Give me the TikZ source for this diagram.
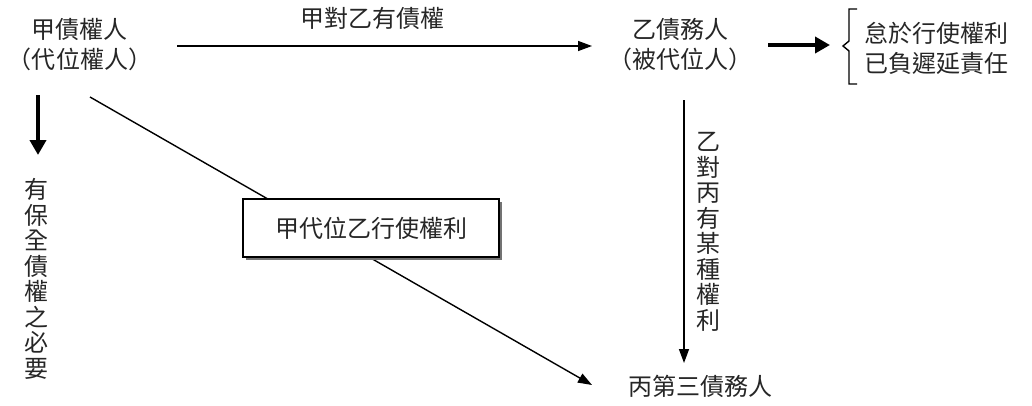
\documentclass[tikz,border=0pt]{standalone}
\usepackage{fontspec}
\newfontfamily\cjk{Noto Sans CJK TC}
\usetikzlibrary{arrows.meta}
\begin{document}
\begin{tikzpicture}[x=1pt,y=-1pt,
  lbl/.style={font=\cjk\fontsize{24}{30}\selectfont, inner sep=0pt, align=center, text=black!85},
  vlbl/.style={font=\cjk\fontsize{24}{25.5}\selectfont, inner sep=0pt, align=center, text=black!85},
  thin arrow/.style={line width=1.4pt, -{Triangle[length=14pt,width=10pt]}},
  thick arrow/.style={line width=4pt, -{Triangle[length=15pt,width=16pt]}},
  shadowbox/.style={draw, line width=1.2pt, fill=white, minimum width=256pt, minimum height=58pt, inner sep=0pt}
]
\useasboundingbox (0,0) rectangle (1032,405);
% nodes
\node[lbl] (A) at (80,45) {甲債權人\\（代位權人）};
\node[lbl] (B) at (680,45) {乙債務人\\（被代位人）};
\node[lbl] (C) at (700,386) {丙第三債務人};
\node[lbl, anchor=west] (D) at (864,48) {怠於行使權利\\已負遲延責任};
\node[lbl] (AB) at (372,18) {甲對乙有債權};
\node[vlbl] (V1) at (36,279) {有\\保\\全\\債\\權\\之\\必\\要};
\node[vlbl] (V2) at (708,232) {乙\\對\\丙\\有\\某\\種\\權\\利};
% coordinates
\coordinate (a1) at (177,46);
\coordinate (b1) at (592,46);
\coordinate (b2) at (768,45);
\coordinate (b3) at (830,45);
\coordinate (l1) at (38,95);
\coordinate (l2) at (38,155);
\coordinate (r1) at (684,100);
\coordinate (r2) at (684,363);
\coordinate (d1) at (90,97);
\coordinate (d2) at (592,385);
% connectors
\draw[thin arrow] (a1) -- (b1);
\draw[thick arrow] (b2) -- (b3);
\draw[thick arrow] (l1) -- (l2);
\draw[thin arrow] (r1) -- (r2);
\draw[thin arrow] (d1) -- (d2);
% brace
\draw[line width=1.4pt] (857,9) -- (849,9) -- (849,41) -- (843,46) -- (849,51) -- (849,84) -- (857,84);
% box with shadow
\fill[black!55] (246,202) rectangle (502,260);
\node[shadowbox, lbl] (E) at (371,228) {甲代位乙行使權利};
\end{tikzpicture}
\end{document}
